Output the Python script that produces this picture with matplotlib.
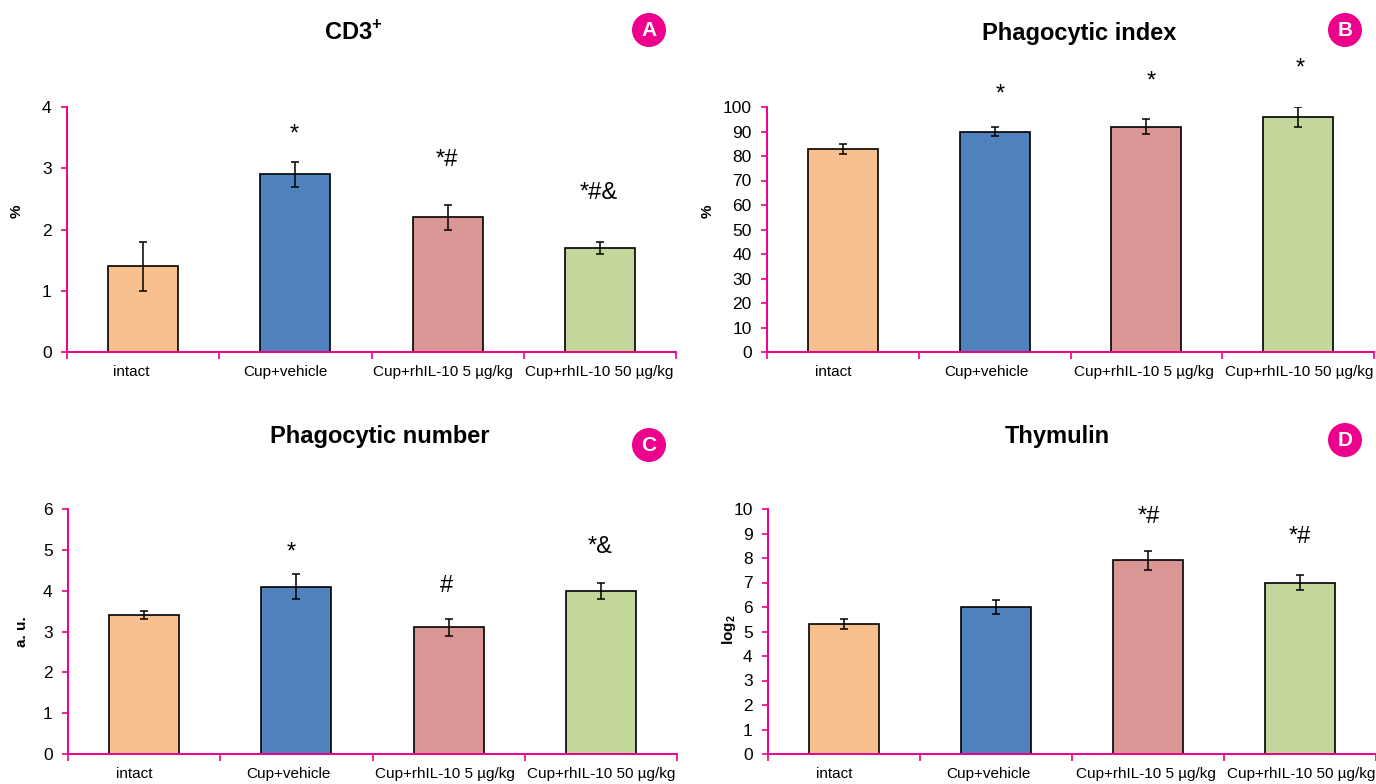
import matplotlib
matplotlib.use('Agg')
import matplotlib.pyplot as plt
from matplotlib.patches import Circle

plt.rcParams['font.family'] = ['Liberation Sans', 'DejaVu Sans']
plt.rcParams['mathtext.fontset'] = 'custom'
plt.rcParams['mathtext.bf'] = 'Liberation Sans:bold'
plt.rcParams['mathtext.rm'] = 'Liberation Sans'

W, H = 1376, 784
PINK = '#EC008C'

groups = ['intact', 'Cup+vehicle', 'Cup+rhIL-10 5 µg/kg', 'Cup+rhIL-10 50 µg/kg']
colors = ['#F8C08F', '#4F81BD', '#D99694', '#C3D69B']

cd3_vals = [1.4, 2.9, 2.2, 1.7]
cd3_err = [0.4, 0.2, 0.2, 0.1]
cd3_sig = ['', '*', '*#', '*#&']

index_vals = [83, 90, 92, 96]
index_err = [2, 2, 3, 4]
index_sig = ['', '*', '*', '*']

number_vals = [3.4, 4.1, 3.1, 4.0]
number_err = [0.1, 0.3, 0.2, 0.2]
number_sig = ['', '*', '#', '*&']

thymulin_vals = [5.3, 6.0, 7.9, 7.0]
thymulin_err = [0.2, 0.3, 0.4, 0.3]
thymulin_sig = ['', '', '*#', '*#']

fig = plt.figure(figsize=(W / 100, H / 100), dpi=100)

# overlay in pixel coords for titles, badges and the significance marks
over = fig.add_axes([0, 0, 1, 1], zorder=5)
over.set_xlim(0, W)
over.set_ylim(H, 0)
over.axis('off')


def panel(left, top, right, bottom, vals, errs, ymax, step, ylabel, ylab_xy, title, title_xy,
          letter, badge_xy, sig, sig_xy, label_x):
    ax = fig.add_axes([left / W, 1 - bottom / H, (right - left) / W, (bottom - top) / H])
    x = range(len(vals))
    ax.bar(x, vals, width=0.46, color=colors, edgecolor='black', linewidth=1.2, zorder=2)
    ax.errorbar(x, vals, yerr=errs, fmt='none', ecolor='black', elinewidth=1.1,
                capsize=3, capthick=1.1, zorder=3)
    ax.set_xlim(-0.5, 3.5)
    ax.set_ylim(0, ymax)
    ax.set_yticks(range(0, ymax + 1, step))
    ax.set_xticks([-0.5, 0.5, 1.5, 2.5, 3.5])
    ax.set_xticklabels([])
    ax.tick_params(axis='y', colors=PINK, length=4, width=1.2, direction='out', labelsize=12.5,
                   labelcolor='black', pad=7)
    ax.tick_params(axis='x', colors=PINK, length=5, width=1.2, direction='out')
    for s in ['top', 'right']:
        ax.spines[s].set_visible(False)
    for s in ['left', 'bottom']:
        ax.spines[s].set_color(PINK)
        ax.spines[s].set_linewidth(1.4)
        ax.spines[s].set_zorder(4)
    ax.patch.set_alpha(0)

    for name, lx in zip(groups, label_x):
        over.text(lx, bottom + 20, name, ha='center', va='center', fontsize=11)
    over.text(ylab_xy[0], ylab_xy[1], ylabel, rotation=90, ha='center', va='center',
              fontsize=11, fontweight='bold')
    over.text(title_xy[0], title_xy[1], title, ha='center', va='center', fontsize=17, fontweight='bold')
    over.add_patch(Circle(badge_xy, 17, color=PINK, lw=0))
    over.text(badge_xy[0], badge_xy[1] + 0.5, letter, ha='center', va='center', fontsize=15,
              fontweight='bold', color='white')
    for mark, (sx, sy) in zip(sig, sig_xy):
        if mark:
            over.text(sx, sy, mark, ha='center', va='center', fontsize=17)


panel(67, 107, 676, 352, cd3_vals, cd3_err, 4, 1, '%', (17, 211), 'CD3$^{\\mathbf{+}}$', (353, 33),
      'A', (649, 30), cd3_sig, [(0, 0), (294, 135), (447, 160), (599, 193)],
      [131, 285, 443, 599])
panel(767, 107, 1374, 352, index_vals, index_err, 100, 10, '%', (708, 211), 'Phagocytic index', (1079, 33),
      'B', (1345, 30), index_sig, [(0, 0), (1000, 95), (1151, 82), (1300, 69)],
      [833, 986, 1144, 1299])
panel(68, 509, 677, 754, number_vals, number_err, 6, 1, 'a. u.', (22, 632), 'Phagocytic number', (380, 436),
      'C', (649, 445), number_sig, [(0, 0), (291, 553), (447, 586), (600, 547)],
      [134, 288, 445, 601])
panel(768, 509, 1376, 754, thymulin_vals, thymulin_err, 10, 1, 'log$_{\\mathbf{2}}$', (729, 630), 'Thymulin', (1057, 436),
      'D', (1345, 440), thymulin_sig, [(0, 0), (0, 0), (1149, 517), (1300, 537)],
      [834, 988, 1146, 1301])

fig.savefig('out.png', dpi=100)
